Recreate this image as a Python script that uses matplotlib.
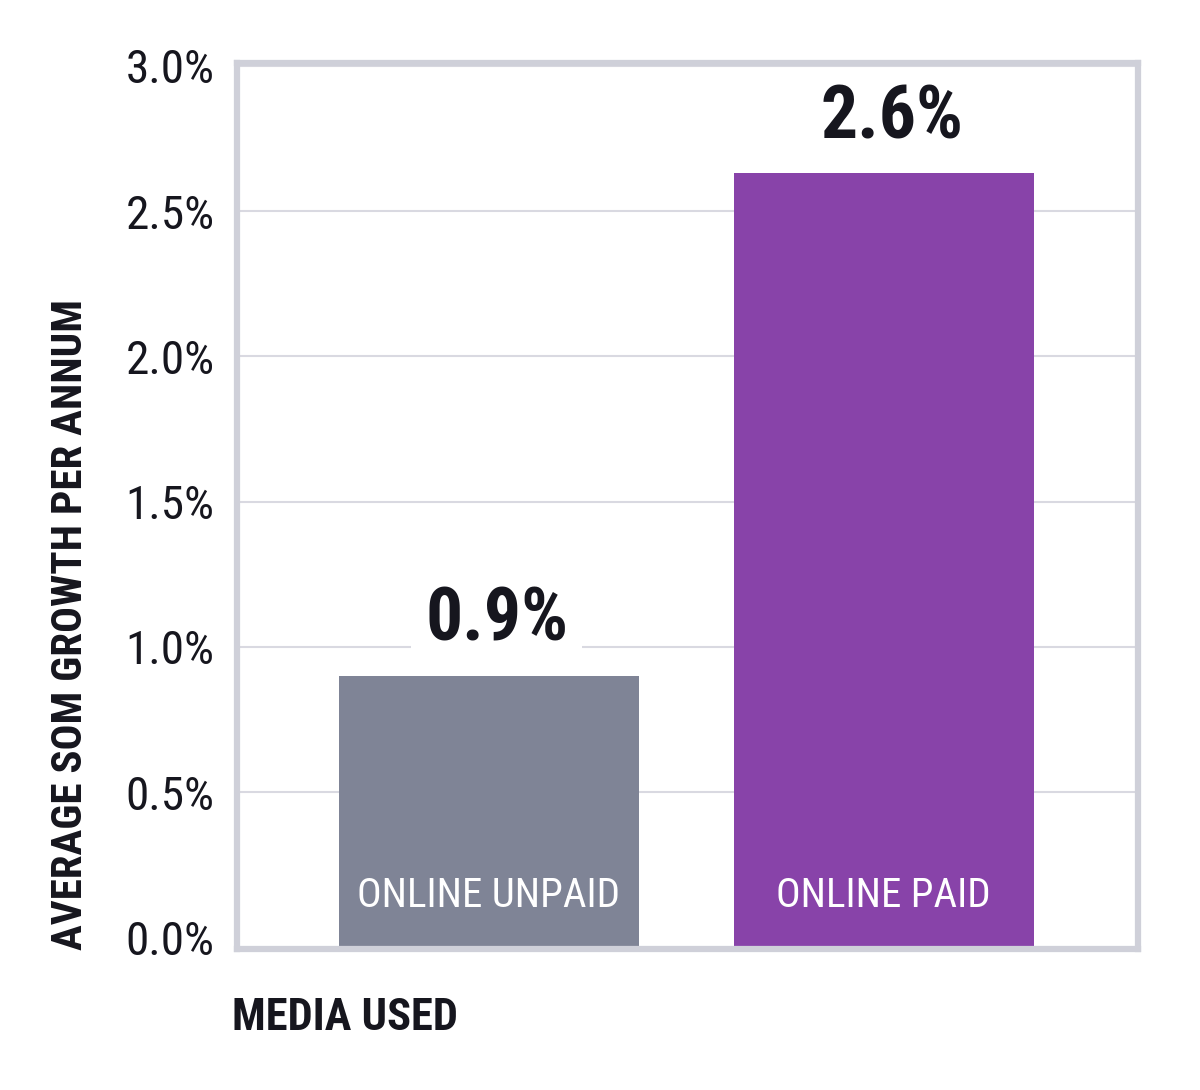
import matplotlib
matplotlib.use("Agg")
import matplotlib.pyplot as plt
from matplotlib import font_manager

categories = ["ONLINE UNPAID", "ONLINE PAID"]
values = [0.9, 2.63]
value_labels = ["0.9%", "2.6%"]
yticks = [0.0, 0.5, 1.0, 1.5, 2.0, 2.5, 3.0]
ytick_labels = ["0.0%", "0.5%", "1.0%", "1.5%", "2.0%", "2.5%", "3.0%"]
colors = ["#7f8496", "#8843a9"]

installed = {f.name for f in font_manager.fontManager.ttflist}
cands = ["Roboto Condensed", "Liberation Sans Narrow", "DejaVu Sans Condensed",
         "Open Sans Condensed", "Roboto", "DejaVu Sans"]
fam = [c for c in cands if c in installed] or ["DejaVu Sans"]
plt.rcParams["font.family"] = fam

ink = "#16161e"
fig = plt.figure(figsize=(12, 10.9), dpi=100)
ax = fig.add_axes([0.1975, 0.1294, 0.751, 0.8128])

ymin = -0.04
x = list(range(len(categories)))
ax.bar(x, [v - ymin for v in values], bottom=ymin, width=0.76,
       color=colors, zorder=2)
ax.set_xlim(-0.637, 1.644)
ax.set_ylim(ymin, 3.01)

ax.set_yticks(yticks)
ax.set_yticklabels(ytick_labels, fontsize=34, color=ink)
ax.tick_params(axis="y", length=0, pad=16)
ax.set_xticks([])
ax.grid(axis="y", color="#d9d9e1", linewidth=1.5, zorder=0)
ax.get_ygridlines()[0].set_visible(False)
ax.set_axisbelow(True)
for s in ax.spines.values():
    s.set_color("#cfd0d9")
    s.set_linewidth(4.5)

for xi, v, lab in zip(x, values, value_labels):
    ax.text(xi + 0.02, v + 0.07, lab, ha="center", va="bottom", fontsize=53,
            fontweight="bold", color=ink, zorder=3,
            bbox=dict(facecolor="white", edgecolor="none", pad=10))

for xi, c in zip(x, categories):
    ax.text(xi, 0.145, c, ha="center", va="center", fontsize=29.5,
            color="white", zorder=3)

ax.set_ylabel("AVERAGE SOM GROWTH PER ANNUM", fontsize=31, fontweight="bold",
              color=ink)
ax.yaxis.set_label_coords(-0.162, 0.366)
fig.text(0.193, 0.066, "MEDIA USED", fontsize=32, fontweight="bold",
         color=ink, ha="left", va="center")

fig.savefig("out.png", dpi=100, facecolor="white")
